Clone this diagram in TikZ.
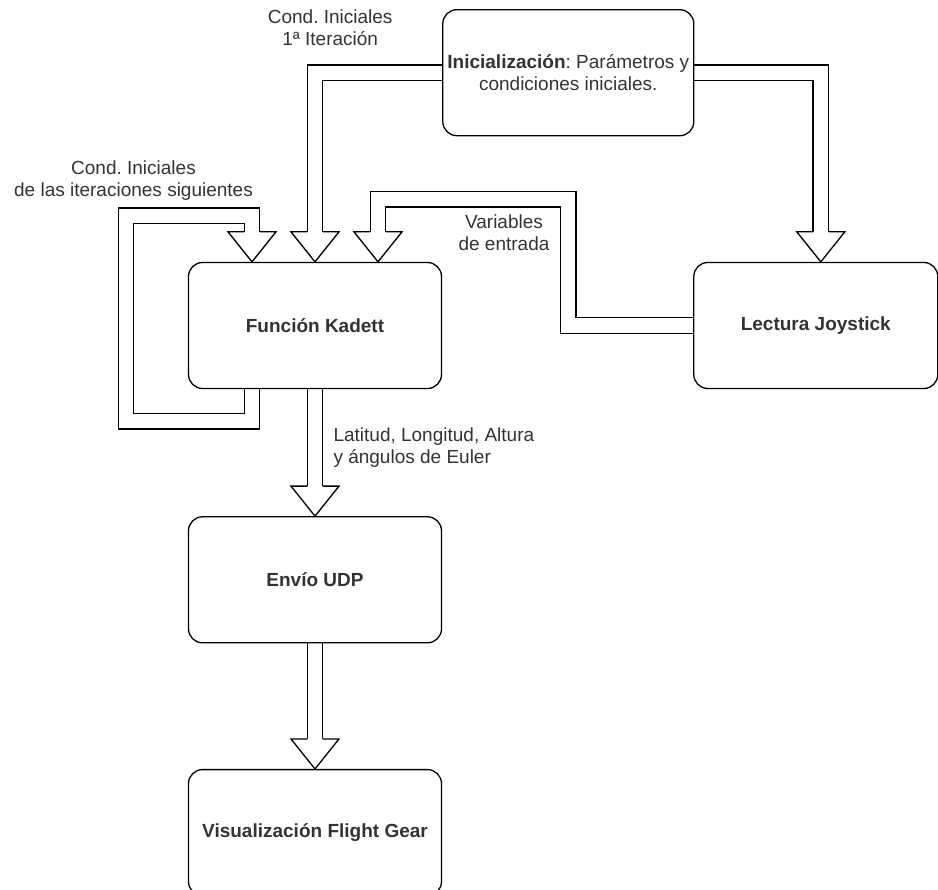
\documentclass[tikz,border=0pt]{standalone}
\usepackage{fontspec}
\setmainfont{Liberation Sans}
\usetikzlibrary{
  backgrounds,
  calc,
  positioning,
}
\frenchspacing
\newcommand{\diagfont}{\fontsize{19}{22}\selectfont}
\definecolor{textgray}{RGB}{51, 51, 51}
\tikzstyle{shaft} = [
  draw=black,
  line width=1.3pt,
  double=white,
  double distance=14.2pt,
]
\tikzset{
  head/.pic={
    \filldraw [fill=white, line width=1.3pt]
      (-7.75pt,30pt) -- (-24pt,30pt) -- (0,0) -- (24pt,30pt) -- (7.75pt,30pt);
  },
}

\begin{document}
\begin{tikzpicture}[
      font=\diagfont,
      box/.style={draw, rounded corners=14pt, line width=1.3pt, minimum width=253pt, minimum height=126pt, align=center, font=\diagfont\bfseries, text=textgray},
      lbl/.style={align=center, text=textgray},
    ]
      \useasboundingbox (0,0) rectangle (938pt,-890pt);
      \node [box] (kadett) at (315pt,-325.5pt) {Función Kadett};
      \node [box, below=127pt of kadett] (udp) {Envío UDP};
      \node [box, below=125.5pt of udp] (flightgear) {Visualización Flight Gear};
      \node [box, minimum width=244pt, right=251pt of kadett] (joystick) {Lectura Joystick};
      \node [box, font=\diagfont, minimum width=251pt, above right=125.5pt and 0pt of kadett.north east] (init) {\textbf{Inicialización}: Parámetros y\\condiciones iniciales.};
      \node [lbl] (firstiter) at ($(init.west)+(-112pt,45pt)$) {Cond. Iniciales\\1ª Iteración};
      \node [lbl] (nextiter) at ($(kadett.north)+(-181.5pt,81pt)$) {Cond. Iniciales\\de las iteraciones siguientes};
      \node [lbl] (inputs) at ($(kadett.north)+(189pt,29pt)$) {Variables\\de entrada};
      \node [lbl, anchor=west, align=left] (outputs) at ($(kadett.south)+(15pt,-58pt)$) {Latitud, Longitud, Altura\\y ángulos de Euler};
      \begin{scope}[on background layer]
        \draw [shaft] (init.west) -| ($(kadett.north)+(0,30pt)$);
        \pic at (kadett.north) {head};
        \draw [shaft] (init.east) -| ($(joystick.north)+(5pt,30pt)$);
        \pic at ($(joystick.north)+(5pt,0)$) {head};
        \draw [shaft] (joystick.west) -| ($(init.south)+(0,-63pt)$) -| ($(kadett.north)+(63pt,30pt)$);
        \pic at ($(kadett.north)+(63pt,0)$) {head};
        \draw [shaft] ($(kadett.south)+(-63pt,0)$) -- ++(0,-32pt) -- ++(-126pt,0) |- ($(kadett.north)+(-63pt,46pt)$) -- ($(kadett.north)+(-63pt,30pt)$);
        \pic at ($(kadett.north)+(-63pt,0)$) {head};
        \draw [shaft] (kadett.south) -- ($(udp.north)+(0,30pt)$);
        \pic at (udp.north) {head};
        \draw [shaft] (udp.south) -- ($(flightgear.north)+(0,30pt)$);
        \pic at (flightgear.north) {head};
      \end{scope}
    \end{tikzpicture}
\end{document}
